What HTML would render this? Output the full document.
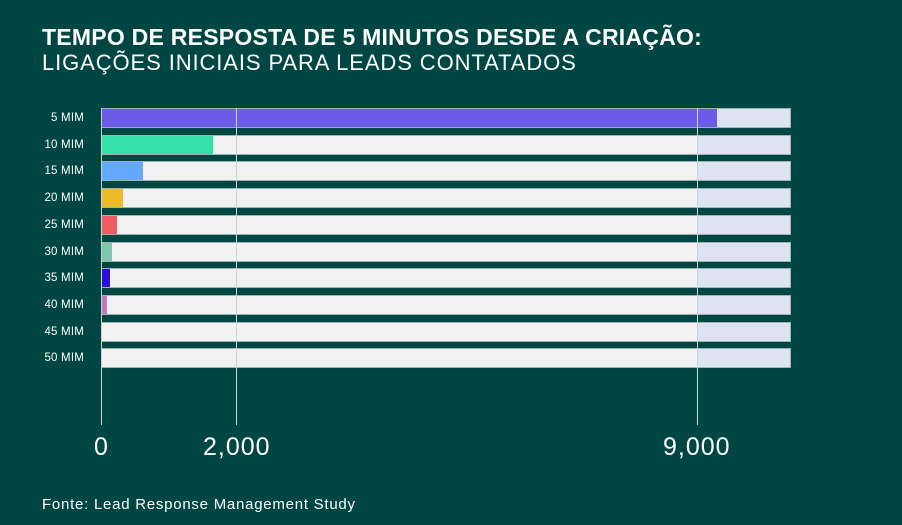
<!DOCTYPE html><html><head><style>
body{margin:0;width:902px;height:525px;background:#004643;font-family:"Liberation Sans",sans-serif;color:#fff;overflow:hidden;position:relative}
.t{position:absolute;left:42px;top:24px;font-size:23px;font-weight:bold;letter-spacing:0.25px}
.s{position:absolute;left:42px;top:50px;font-size:22px;letter-spacing:0.9px}
.lab{position:absolute;left:0;width:84px;text-align:right;font-size:11.5px;letter-spacing:0.2px}
.row{position:absolute;left:102px;width:688px;height:18px;background:#f1f1f1;box-shadow:0 0 0 1px #9fb3b3}
.row .r{position:absolute;left:596px;right:0;top:0;bottom:0;background:#dde3f0}
.row .b{position:absolute;left:0;top:0;bottom:0}
.g{position:absolute;top:108px;height:317px;width:1px;background:#c9d3d3}
.tk{position:absolute;top:433px;font-size:25px;letter-spacing:1px}
.src{position:absolute;left:42px;top:496px;font-size:15px;letter-spacing:0.75px}
</style></head><body>
<div class="t">TEMPO DE RESPOSTA DE 5 MINUTOS DESDE A CRIAÇÃO:</div>
<div class="s">LIGAÇÕES INICIAIS PARA LEADS CONTATADOS</div>
<div id="c"></div>
<div class="g" style="left:101px"></div><div class="g" style="left:236px"></div><div class="g" style="left:697px"></div>
<div class="tk" style="left:94px">0</div>
<div class="tk" style="left:203px">2,000</div>
<div class="tk" style="left:663px">9,000</div>
<div class="src">Fonte: Lead Response Management Study</div>
<script>
var d=[["5 MIM",615,"#6b5be6"],["10 MIM",111,"#36e2ab"],["15 MIM",41,"#64a8ff"],["20 MIM",21,"#ecba2a"],["25 MIM",15,"#ef5b63"],["30 MIM",10,"#7fc4ac"],["35 MIM",8,"#2a0fd8"],["40 MIM",5,"#c17bbf"],["45 MIM",0,""],["50 MIM",0,""]];
var h="";d.forEach(function(x,i){var y=109+i*26.7;
h+='<div class="lab" style="top:'+(y+3)+'px">'+x[0]+'</div><div class="row" style="top:'+y+'px"><div class="r"></div>'+(x[1]?'<div class="b" style="width:'+x[1]+'px;background:'+x[2]+'"></div>':'')+'</div>';});
document.getElementById("c").innerHTML=h;
</script>
</body></html>
